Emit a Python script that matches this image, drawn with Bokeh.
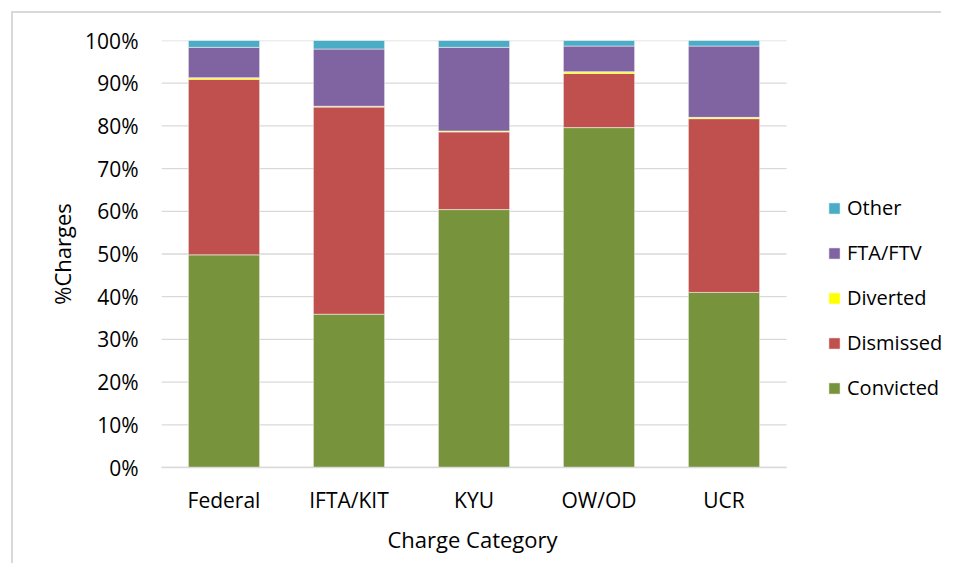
from bokeh.plotting import figure
from bokeh.models import Range1d, Legend, LegendItem, PrintfTickFormatter, FixedTicker, ColumnDataSource, Title
from bokeh.embed import file_html
from bokeh.resources import INLINE

categories = ["Federal", "IFTA/KIT", "KYU", "OW/OD", "UCR"]
convicted = [49.8, 35.9, 60.4, 79.6, 41.0]
dismissed = [41.1, 48.5, 18.2, 12.7, 40.7]
diverted = [0.4, 0.2, 0.2, 0.4, 0.3]
fta_ftv = [7.1, 13.4, 19.6, 6.0, 16.7]
other = [1.6, 2.0, 1.6, 1.3, 1.3]
y_ticks = [0, 10, 20, 30, 40, 50, 60, 70, 80, 90, 100]

series = ["Convicted", "Dismissed", "Diverted", "FTA/FTV", "Other"]
colors = ["#77933C", "#C0504D", "#FFFF00", "#8064A2", "#4BACC6"]

n = len(categories)
x_pos = list(range(1, n + 1))
data = dict(x=x_pos, Convicted=convicted, Dismissed=dismissed,
            Diverted=diverted, **{"FTA/FTV": fta_ftv}, Other=other)

FONT = "Open Sans"
FIG_W = 930
FRAME_W = FIG_W - 148

p = figure(x_range=Range1d(0.5, 0.5 + n * FRAME_W / 625),
           y_range=Range1d(0, 100),
           width=FIG_W, height=552, output_backend="svg", toolbar_location=None,
           min_border_left=148, min_border_top=27, min_border_right=0,
           min_border_bottom=98)
p.margin = (11, 0, 0, 11)
p.styles = {"border-top": "2px solid #d9d9d9", "border-left": "2px solid #d9d9d9",
            "border-right": "none", "border-bottom": "none", "outline": "none"}

# horizontal gridlines limited to the category span
grid_src = ColumnDataSource(dict(y=y_ticks, x0=[0.5] * len(y_ticks), x1=[n + 0.5] * len(y_ticks)))
p.segment(x0="x0", x1="x1", y0="y", y1="y", source=grid_src,
          line_color="#d9d9d9", line_width=1.3)

renderers = p.vbar_stack(series, x="x", width=0.57, source=data, color=colors,
                         line_color="white", line_width=0.5)

p.outline_line_color = None
p.xgrid.grid_line_color = None
p.ygrid.grid_line_color = None

p.yaxis.ticker = FixedTicker(ticks=y_ticks)
p.yaxis.formatter = PrintfTickFormatter(format="%d%%")
p.yaxis.axis_line_color = None
p.yaxis.major_tick_line_color = None
p.yaxis.minor_tick_line_color = None
p.yaxis.major_label_standoff = 17
p.yaxis.axis_label = "%Charges"
p.yaxis.axis_label_standoff = 5

p.xaxis.ticker = FixedTicker(ticks=x_pos)
p.xaxis.major_label_overrides = {x: c for x, c in zip(x_pos, categories)}
p.xaxis.bounds = (0.5, n + 0.5)
p.xaxis.axis_line_color = "#d9d9d9"
p.xaxis.axis_line_width = 1.3
p.xaxis.major_tick_line_color = None
p.xaxis.minor_tick_line_color = None
p.xaxis.major_label_standoff = 12

for ax in (p.xaxis, p.yaxis):
    ax.major_label_text_font = FONT
    ax.major_label_text_font_size = "21px"
    ax.major_label_text_color = "#000000"
    ax.axis_label_text_font = FONT
    ax.axis_label_text_font_size = "22px"
    ax.axis_label_text_font_style = "normal"
    ax.axis_label_text_color = "#000000"

x_title = Title(text="Charge Category", align="left", offset=226, standoff=10,
                text_font=FONT, text_font_size="22px", text_font_style="normal",
                text_color="#000000")
p.add_layout(x_title, "below")

items = [LegendItem(label=s, renderers=[r]) for s, r in zip(series, renderers)]
items.reverse()
legend = Legend(items=items, location=(666, 66), orientation="vertical",
                glyph_width=14, glyph_height=14, label_height=14,
                spacing=18, padding=0, margin=0, label_standoff=6,
                label_text_font=FONT, label_text_font_size="20px",
                label_text_color="#000000", border_line_color=None,
                background_fill_alpha=0)
p.add_layout(legend, "center")

open("out.html", "w").write(file_html(p, INLINE))
